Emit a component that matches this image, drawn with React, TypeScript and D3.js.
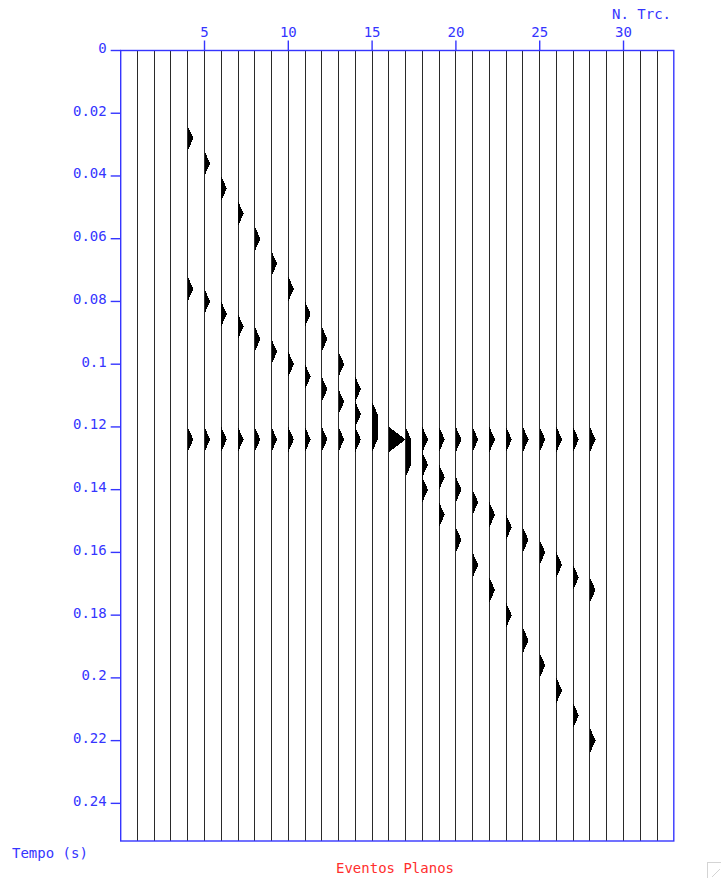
import React from 'react';
import * as d3 from 'd3';

// Trace numbers (one vertical wiggle per trace)
const traceNumbers = [
  1, 2, 3, 4, 5, 6, 7, 8, 9, 10, 11, 12, 13, 14, 15, 16,
  17, 18, 19, 20, 21, 22, 23, 24, 25, 26, 27, 28, 29, 30, 31, 32,
];

// Traces that carry the plane events
const eventTraces = [
  4, 5, 6, 7, 8, 9, 10, 11, 12, 13, 14, 15, 16,
  17, 18, 19, 20, 21, 22, 23, 24, 25, 26, 27, 28,
];

// Arrival times (s) of each plane event on the traces above
const steepEventTimes = [
  0.028, 0.036, 0.044, 0.052, 0.060, 0.068, 0.076, 0.084, 0.092, 0.100, 0.108, 0.116, 0.124,
  0.132, 0.140, 0.148, 0.156, 0.164, 0.172, 0.180, 0.188, 0.196, 0.204, 0.212, 0.220,
];
const gentleEventTimes = [
  0.076, 0.080, 0.084, 0.088, 0.092, 0.096, 0.100, 0.104, 0.108, 0.112, 0.116, 0.120, 0.124,
  0.128, 0.132, 0.136, 0.140, 0.144, 0.148, 0.152, 0.156, 0.160, 0.164, 0.168, 0.172,
];
const flatEventTimes = [
  0.124, 0.124, 0.124, 0.124, 0.124, 0.124, 0.124, 0.124, 0.124, 0.124, 0.124, 0.124, 0.124,
  0.124, 0.124, 0.124, 0.124, 0.124, 0.124, 0.124, 0.124, 0.124, 0.124, 0.124, 0.124,
];
const eventAmplitudes = [1, 1, 1];

// Sampling of every trace
const sampleInterval = 0.004;
const sampleCount = 64;

// Axis ticks
const timeTicks = [0, 0.02, 0.04, 0.06, 0.08, 0.1, 0.12, 0.14, 0.16, 0.18, 0.2, 0.22, 0.24];
const timeTickLabels = ['0', '0.02', '0.04', '0.06', '0.08', '0.1', '0.12', '0.14', '0.16', '0.18', '0.2', '0.22', '0.24'];
const traceTicks = [5, 10, 15, 20, 25, 30];
const traceTickLabels = ['5', '10', '15', '20', '25', '30'];

const BLUE = '#3535ff';
const RED = '#ff2e2e';
const FONT = '"DejaVu Sans Mono", "Liberation Mono", monospace';

export default function App() {
  const width = 721;
  const height = 878;

  const x = d3.scaleLinear().domain([0, 33]).range([120.7, 673.8]);
  const y = d3.scaleLinear().domain([0, 0.252]).range([50.5, 841]);
  const spacing = x(1) - x(0);
  const amp = d3.scaleLinear().domain([0, 3]).range([0, spacing]);

  const events = [steepEventTimes, gentleEventTimes, flatEventTimes];

  const traces = traceNumbers.map((n) => {
    const samples: number[] = new Array(sampleCount).fill(0);
    const k = eventTraces.indexOf(n);
    if (k >= 0) {
      events.forEach((times, e) => {
        const idx = Math.round(times[k] / sampleInterval);
        if (idx >= 0 && idx < sampleCount) samples[idx] += eventAmplitudes[e];
      });
    }
    return { n, samples };
  });

  const wiggle = (x0: number) =>
    d3
      .area<number>()
      .y((_, i) => y(i * sampleInterval))
      .x0(x0)
      .x1((v) => x0 + amp(Math.max(0, v)))
      .curve(d3.curveLinear);

  const [x0, x1] = x.range();
  const [y0, y1] = y.range();

  return (
    <svg
      width={width}
      height={height}
      style={{ position: 'absolute', left: 0, top: 0, background: '#fff' }}
    >
      <rect x={0} y={0} width={width} height={height} fill="#fff" />

      {/* traces */}
      <g shapeRendering="crispEdges">
        {traces.map(({ n, samples }) => (
          <g key={n}>
            <line x1={x(n)} x2={x(n)} y1={y0} y2={y1} stroke="#2a2a2a" strokeWidth={1} />
            {samples.some((v) => v > 0) && (
              <path d={wiggle(x(n))(samples) || ''} fill="#000" stroke="none" />
            )}
          </g>
        ))}
      </g>

      {/* frame */}
      <g stroke={BLUE} strokeWidth={1.4} fill="none">
        <rect x={x0} y={y0} width={x1 - x0} height={y1 - y0} />
        {timeTicks.map((t) => (
          <line key={t} x1={x0 - 10} x2={x0} y1={y(t)} y2={y(t)} />
        ))}
        {traceTicks.map((n) => (
          <line key={n} x1={x(n)} x2={x(n)} y1={y0 - 10} y2={y0} />
        ))}
      </g>

      {/* tick labels */}
      <g fill={BLUE} fontFamily={FONT} fontSize={14}>
        {timeTicks.map((t, i) => (
          <text key={t} x={x0 - 14} y={y(t) + 2.5} textAnchor="end">
            {timeTickLabels[i]}
          </text>
        ))}
        {traceTicks.map((n, i) => (
          <text key={n} x={x(n)} y={y0 - 14} textAnchor="middle">
            {traceTickLabels[i]}
          </text>
        ))}
        <text x={671} y={19} textAnchor="end">N. Trc.</text>
        <text x={12} y={858}>Tempo (s)</text>
      </g>

      <text x={395} y={873} textAnchor="middle" fill={RED} fontFamily={FONT} fontSize={14}>
        Eventos Planos
      </text>

      {/* window resize grip */}
      <g stroke="#d4d4d4" strokeWidth={1} fill="none" shapeRendering="crispEdges">
        <path d="M707.5,878 V862.5 H721" />
        <line x1={712} y1={877} x2={720} y2={869} />
      </g>
    </svg>
  );
}
